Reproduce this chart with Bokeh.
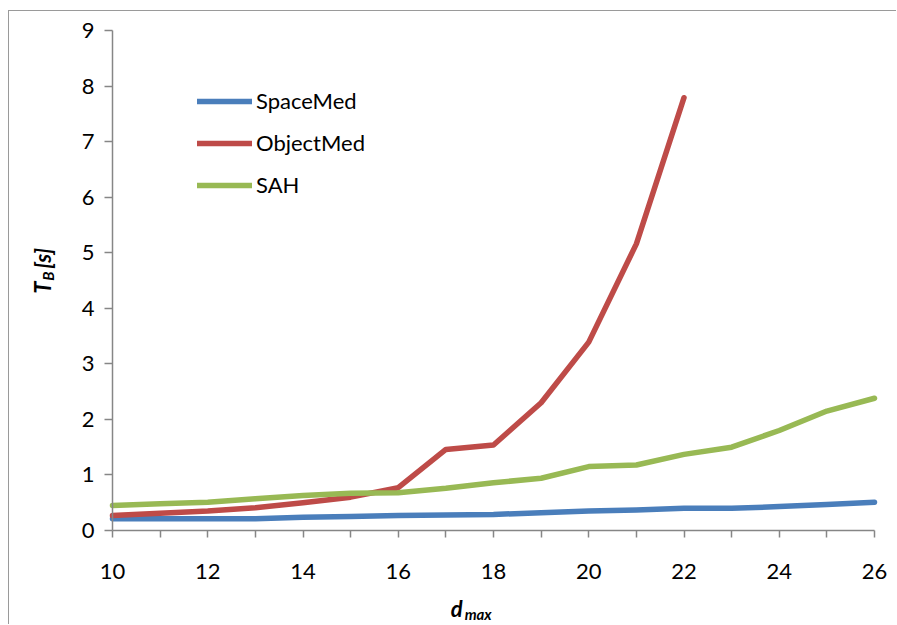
import numpy as np
from bokeh.plotting import figure
from bokeh.models import Range1d, FixedTicker, Label, Legend, LegendItem
from bokeh.embed import file_html
from bokeh.resources import INLINE

# ---- data ----
d_max = [10, 11, 12, 13, 14, 15, 16, 17, 18, 19, 20, 21, 22, 23, 24, 25, 26]
space_med = [0.21, 0.21, 0.21, 0.21, 0.24, 0.25, 0.27, 0.28, 0.29, 0.32,
             0.35, 0.37, 0.40, 0.40, 0.43, 0.47, 0.51]
object_med_x = [10, 11, 12, 13, 14, 15, 16, 17, 18, 19, 20, 21, 22]
object_med = [0.27, 0.31, 0.35, 0.41, 0.50, 0.60, 0.77, 1.46, 1.54, 2.30,
              3.39, 5.16, 7.79]
sah = [0.45, 0.48, 0.51, 0.57, 0.63, 0.67, 0.68, 0.76, 0.86, 0.94,
       1.15, 1.18, 1.37, 1.50, 1.80, 2.15, 2.38]
series_names = ["SpaceMed", "ObjectMed", "SAH"]
x_major_ticks = [10, 12, 14, 16, 18, 20, 22, 24, 26]
x_minor_ticks = [11, 13, 15, 17, 19, 21, 23, 25]
y_ticks = [0, 1, 2, 3, 4, 5, 6, 7, 8, 9]
x_lo, x_hi = 10, 26
y_lo, y_hi = 0, 9

# ---- layout (page pixels) ----
FONT = "Lato"
AXIS_GRAY = "#868686"
colors = ["#4A7EBB", "#BE4B48", "#98B954"]
CX0, CY0 = 9, 11          # canvas origin on page (margin + 1px border)
W, H = 888, 614           # canvas size
AX_LEFT, AX_RIGHT = 112, 874   # page x of x_lo / x_hi
AX_TOP, AX_BOTTOM = 30, 530    # page y of y_hi / y_lo
ppx = (AX_RIGHT - AX_LEFT) / (x_hi - x_lo)
ppy = (AX_BOTTOM - AX_TOP) / (y_hi - y_lo)
xr0 = x_lo - (AX_LEFT - CX0) / ppx
yr1 = y_lo + (AX_BOTTOM - CY0) / ppy

p = figure(width=W, height=H,
           x_range=Range1d(xr0, xr0 + W / ppx), y_range=Range1d(yr1 - H / ppy, yr1),
           output_backend="svg", toolbar_location=None,
           min_border_left=0, min_border_right=0, min_border_top=0, min_border_bottom=0)
p.margin = (10, 0, 0, 8)
p.styles = {"border-left": "1px solid #9a9a9a", "border-top": "1px solid #9a9a9a"}
p.outline_line_color = None
p.xgrid.visible = False
p.ygrid.visible = False
p.background_fill_color = "white"
p.border_fill_color = "white"

# x axis
xa = p.xaxis[0]
xa.fixed_location = y_lo
xa.bounds = (x_lo, x_hi)
xa.ticker = FixedTicker(ticks=x_major_ticks, minor_ticks=x_minor_ticks)
xa.axis_line_color = AXIS_GRAY
xa.axis_line_width = 1.5
xa.major_tick_line_color = AXIS_GRAY
xa.major_tick_line_width = 1.5
xa.minor_tick_line_color = AXIS_GRAY
xa.minor_tick_line_width = 1.5
xa.major_tick_in = 0
xa.major_tick_out = 7
xa.minor_tick_in = 0
xa.minor_tick_out = 7
xa.major_label_text_font = FONT
xa.major_label_text_font_size = "22px"
xa.major_label_text_color = "black"
xa.major_label_standoff = 26

# y axis
ya = p.yaxis[0]
ya.fixed_location = x_lo
ya.bounds = (y_lo, y_hi)
ya.ticker = FixedTicker(ticks=y_ticks, minor_ticks=[])
ya.axis_line_color = AXIS_GRAY
ya.axis_line_width = 1.5
ya.major_tick_line_color = AXIS_GRAY
ya.major_tick_line_width = 1.5
ya.major_tick_in = 0
ya.major_tick_out = 8
ya.minor_tick_out = 0
ya.minor_tick_in = 0
ya.major_label_text_font = FONT
ya.major_label_text_font_size = "22px"
ya.major_label_text_color = "black"
ya.major_label_standoff = 10

# series
lw = 5.5
r1 = p.line(d_max, space_med, line_color=colors[0], line_width=lw, line_join="round", line_cap="round")
r2 = p.line(object_med_x, object_med, line_color=colors[1], line_width=lw, line_join="round", line_cap="round")
r3 = p.line(d_max, sah, line_color=colors[2], line_width=lw, line_join="round", line_cap="round")

legend = Legend(items=[LegendItem(label=series_names[0], renderers=[r1]),
                       LegendItem(label=series_names[1], renderers=[r2]),
                       LegendItem(label=series_names[2], renderers=[r3])],
                location=(197 - CX0, CY0 + H - 198))
legend.border_line_color = None
legend.background_fill_alpha = 0
legend.padding = 0
legend.margin = 0
legend.spacing = 15
legend.glyph_width = 55
legend.glyph_height = 20
legend.label_height = 20
legend.label_standoff = 4
legend.label_text_font = FONT
legend.label_text_font_size = "22px"
legend.label_text_color = "black"
p.add_layout(legend)

# y axis label: T_B [s]
lab_kw = dict(text_font=FONT, text_font_style="bold italic", text_color="black",
              angle=np.pi / 2, text_align="left", text_baseline="alphabetic")
p.add_layout(Label(x=x_lo, y=4.26, x_offset=-70, y_offset=0, text="T", text_font_size="22px", **lab_kw))
p.add_layout(Label(x=x_lo, y=4.26, x_offset=-65, y_offset=13, text="B", text_font_size="15px", **lab_kw))
p.add_layout(Label(x=x_lo, y=4.26, x_offset=-70, y_offset=25, text="[s]", text_font_size="22px", **lab_kw))

# x axis label: d_max
xl_kw = dict(text_font=FONT, text_font_style="bold italic", text_color="black",
             text_align="left", text_baseline="alphabetic")
p.add_layout(Label(x=17.1, y=y_lo, x_offset=0, y_offset=-78, text="d", text_font_size="22px", **xl_kw))
p.add_layout(Label(x=17.1, y=y_lo, x_offset=14, y_offset=-83, text="max", text_font_size="15px", **xl_kw))

open("out.html", "w").write(file_html(p, INLINE))
